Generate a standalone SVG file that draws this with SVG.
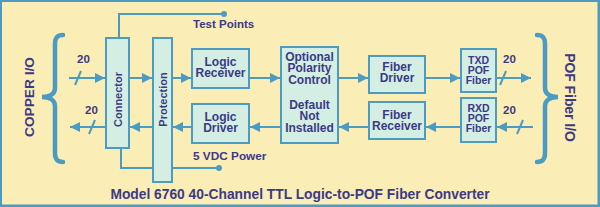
<svg xmlns="http://www.w3.org/2000/svg" width="600" height="207" viewBox="0 0 600 207">
<defs>
<style>
.box{fill:#D4EEE3;stroke:#4B9BC2;stroke-width:2;}
.ln{fill:none;stroke:#4B9BC2;stroke-width:2;}
.br{fill:none;stroke:#4B9BC2;stroke-width:4.5;stroke-linecap:round;}
.t{font-family:"Liberation Sans",Arial,sans-serif;font-weight:bold;fill:#3B3A86;text-anchor:middle;}
.s12{font-size:12px;}
.s11{font-size:11px;}
.s10{font-size:10.5px;}
.lab{font-family:"Liberation Sans",Arial,sans-serif;font-weight:bold;fill:#3B3A86;}
</style>
<marker id="ah" viewBox="0 0 10 10" refX="10" refY="5" markerWidth="10" markerHeight="10" markerUnits="userSpaceOnUse" orient="auto">
<path d="M0,0 L10,5 L0,10 Z" fill="#4B9BC2"/>
</marker>
</defs>
<rect x="0" y="0" width="600" height="207" fill="#4B9BC2"/>
<rect x="2" y="2" width="595.5" height="202.5" fill="#FBEDB6"/>

<g id="connectors">
<polyline class="ln" points="119,38 119,14 224,14"/>
<circle cx="224" cy="14" r="3" fill="#4B9BC2"/>
<polyline class="ln" points="121,148 121,168 219,168"/>
<circle cx="219" cy="168" r="3" fill="#4B9BC2"/>
<line class="ln" x1="69" y1="78" x2="105" y2="78" marker-end="url(#ah)"/>
<line class="ln" x1="75" y1="85" x2="81" y2="71"/>
<line class="ln" x1="129" y1="78" x2="152" y2="78" marker-end="url(#ah)"/>
<line class="ln" x1="172" y1="78" x2="191" y2="78" marker-end="url(#ah)"/>
<line class="ln" x1="249" y1="78" x2="280" y2="78" marker-end="url(#ah)"/>
<line class="ln" x1="338" y1="78" x2="368" y2="78" marker-end="url(#ah)"/>
<line class="ln" x1="425" y1="78" x2="460" y2="78" marker-end="url(#ah)"/>
<line class="ln" x1="496" y1="78" x2="531" y2="78" marker-end="url(#ah)"/>
<line class="ln" x1="500" y1="85" x2="506" y2="71"/>
<line class="ln" x1="533" y1="127" x2="497" y2="127" marker-end="url(#ah)"/>
<line class="ln" x1="517" y1="134" x2="523" y2="120"/>
<line class="ln" x1="461" y1="127" x2="426" y2="127" marker-end="url(#ah)"/>
<line class="ln" x1="369" y1="127" x2="339" y2="127" marker-end="url(#ah)"/>
<line class="ln" x1="281" y1="127" x2="250" y2="127" marker-end="url(#ah)"/>
<line class="ln" x1="192" y1="127" x2="173" y2="127" marker-end="url(#ah)"/>
<line class="ln" x1="153" y1="127" x2="130" y2="127" marker-end="url(#ah)"/>
<line class="ln" x1="106" y1="127" x2="70" y2="127" marker-end="url(#ah)"/>
<line class="ln" x1="89" y1="134" x2="95" y2="120"/>
</g>

<g id="labels">
<text class="lab" x="193" y="28" font-size="11.5">Test Points</text>
<text class="lab" x="193" y="160" font-size="11.8">5 VDC Power</text>
<text class="lab" x="77" y="63" font-size="11.5">20</text>
<text class="lab" x="85" y="114" font-size="11.5">20</text>
<text class="lab" x="503" y="63" font-size="11.5">20</text>
<text class="lab" x="503" y="114" font-size="11.5">20</text>
<text class="t" x="300" y="199" font-size="13.8">Model 6760 40-Channel TTL Logic-to-POF Fiber Converter</text>
</g>

<g id="copper-io">
<path class="br" d="M63,35 C57,35 55,38 55,44 L55,88 C55,94 50,97 42,97 C50,97 55,100 55,106 L55,153 C55,159 57,162 63,162"/>
<text class="t" transform="translate(34,97) rotate(-90)" font-size="13.7">COPPER I/O</text>
</g>

<g id="pof-fiber-io">
<path class="br" d="M537,35 C543,35 545,38 545,44 L545,88 C545,94 550,97 558,97 C550,97 545,100 545,106 L545,153 C545,159 543,162 537,162"/>
<text class="t" transform="translate(565,97.5) rotate(90)" font-size="13.9">POF Fiber I/O</text>
</g>

<g id="connector">
<rect class="box" x="106" y="38" width="23" height="110"/>
<text class="t s11" transform="translate(121.5,99.5) rotate(-90)">Connector</text>
</g>

<g id="protection">
<rect class="box" x="153" y="38" width="19" height="144"/>
<text class="t s11" transform="translate(166.5,99.5) rotate(-90)">Protection</text>
</g>

<g id="logic-receiver">
<rect class="box" x="192" y="49" width="57" height="39"/>
<text class="t s12"><tspan x="220.5" y="65.5">Logic</tspan><tspan x="220.5" y="77">Receiver</tspan></text>
</g>

<g id="logic-driver">
<rect class="box" x="192" y="104" width="57" height="39"/>
<text class="t s12"><tspan x="220.5" y="121">Logic</tspan><tspan x="220.5" y="132">Driver</tspan></text>
</g>

<g id="polarity-control">
<rect class="box" x="281" y="47" width="57" height="96"/>
<text class="t s12"><tspan x="309.5" y="60.5">Optional</tspan><tspan x="309.5" y="72">Polarity</tspan><tspan x="309.5" y="83.5">Control</tspan></text>
<text class="t s12"><tspan x="309.5" y="108.5">Default</tspan><tspan x="309.5" y="120">Not</tspan><tspan x="309.5" y="131.5">Installed</tspan></text>
</g>

<g id="fiber-driver">
<rect class="box" x="369" y="56" width="56" height="37"/>
<text class="t s12"><tspan x="397" y="70.5">Fiber</tspan><tspan x="397" y="82">Driver</tspan></text>
</g>

<g id="fiber-receiver">
<rect class="box" x="369" y="102" width="56" height="37"/>
<text class="t s12"><tspan x="397" y="118.5">Fiber</tspan><tspan x="397" y="130">Receiver</tspan></text>
</g>

<g id="txd-pof-fiber">
<rect class="box" x="461" y="49" width="35" height="43"/>
<text class="t s10"><tspan x="478.5" y="64">TXD</tspan><tspan x="478.5" y="74">POF</tspan><tspan x="478.5" y="84">Fiber</tspan></text>
</g>

<g id="rxd-pof-fiber">
<rect class="box" x="461" y="98" width="35" height="44"/>
<text class="t s10"><tspan x="478.5" y="112">RXD</tspan><tspan x="478.5" y="122">POF</tspan><tspan x="478.5" y="132">Fiber</tspan></text>
</g>
</svg>
